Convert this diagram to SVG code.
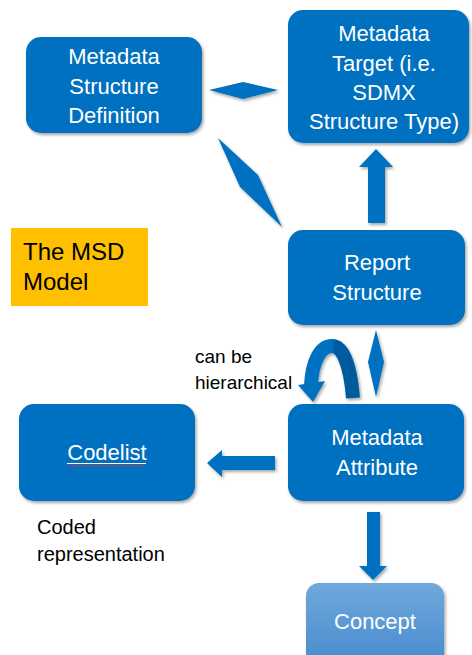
<svg xmlns="http://www.w3.org/2000/svg" width="472" height="655" viewBox="0 0 472 655">
<style>
.box{fill:#0070C0;}
.bt{fill:#FFFFFF;font-family:"Liberation Sans",Arial,sans-serif;font-size:22px;text-anchor:middle;}
.lbl{fill:#000000;font-family:"Liberation Sans",Arial,sans-serif;}
.conn{fill:#0070C0;}
</style>
<defs>
<filter id="sh" x="-10%" y="-10%" width="125%" height="130%">
<feDropShadow dx="1.5" dy="2" stdDeviation="1.8" flood-color="#000" flood-opacity="0.35"/>
</filter>
<linearGradient id="cg" x1="0" y1="0" x2="0" y2="1">
<stop offset="0" stop-color="#70A8DD"/>
<stop offset="1" stop-color="#4488CC"/>
</linearGradient>
<linearGradient id="arcg" x1="0" y1="0" x2="1" y2="0">
<stop offset="0.5" stop-color="#0070C0"/>
<stop offset="0.58" stop-color="#005A9E"/>
<stop offset="1" stop-color="#005A9E"/>
</linearGradient>
</defs>
<rect width="472" height="655" fill="#FFFFFF"/>

<g id="msd">
<rect class="box" x="26" y="37" width="176" height="96" rx="15" filter="url(#sh)"/>
<text class="bt" x="114" y="64">Metadata</text>
<text class="bt" x="114" y="94">Structure</text>
<text class="bt" x="114" y="123">Definition</text>
</g>

<g id="target">
<rect class="box" x="288" y="10" width="181" height="133" rx="15" filter="url(#sh)"/>
<text class="bt" x="384" y="41">Metadata</text>
<text class="bt" x="384" y="71">Target (i.e.</text>
<text class="bt" x="384" y="100">SDMX</text>
<text class="bt" x="384" y="129">Structure Type)</text>
</g>

<g id="msdmodel">
<rect x="11" y="228" width="137" height="78" fill="#FFC000"/>
<text class="lbl" x="23" y="260" font-size="24">The MSD</text>
<text class="lbl" x="23" y="290" font-size="24">Model</text>
</g>

<g id="report">
<rect class="box" x="288" y="230" width="177" height="95" rx="15" filter="url(#sh)"/>
<text class="bt" x="377" y="270">Report</text>
<text class="bt" x="377" y="300">Structure</text>
</g>

<g id="codelist">
<rect class="box" x="19" y="404" width="176" height="97" rx="15" filter="url(#sh)"/>
<text class="bt" x="107" y="460">Codelist</text>
<line x1="67" y1="463.5" x2="146" y2="463.5" stroke="#FFFFFF" stroke-width="1"/>
<path d="M67 466.5 l2 -1.5 l2 1.5 l2 -1.5 l2 1.5 l2 -1.5 l2 1.5 l2 -1.5 l2 1.5 l2 -1.5 l2 1.5 l2 -1.5 l2 1.5 l2 -1.5 l2 1.5 l2 -1.5 l2 1.5 l2 -1.5 l2 1.5 l2 -1.5 l2 1.5 l2 -1.5 l2 1.5 l2 -1.5 l2 1.5 l2 -1.5 l2 1.5 l2 -1.5 l2 1.5 l2 -1.5 l2 1.5 l2 -1.5 l2 1.5 l2 -1.5 l2 1.5 l2 -1.5 l2 1.5 l2 -1.5 l2 1.5 l2 -1.5" fill="none" stroke="#E03030" stroke-width="0.9"/>
</g>

<g id="attribute">
<rect class="box" x="288" y="404" width="176" height="97" rx="15" filter="url(#sh)"/>
<text class="bt" x="377" y="445">Metadata</text>
<text class="bt" x="377" y="475">Attribute</text>
</g>

<g id="concept">
<rect x="306" y="583" width="138" height="90" rx="13" fill="url(#cg)" filter="url(#sh)"/>
<text class="bt" x="375" y="629">Concept</text>
</g>

<g id="labels">
<text class="lbl" x="195" y="363" font-size="19">can be</text>
<text class="lbl" x="195" y="389" font-size="19">hierarchical</text>
<text class="lbl" x="37" y="534" font-size="20">Coded</text>
<text class="lbl" x="37" y="561" font-size="20">representation</text>
</g>

<g id="connectors" filter="url(#sh)">
<polygon class="conn" points="209,90 243,82 278,90 243,99"/>
<polygon class="conn" points="218,138 258,175 282,227 240,187"/>
<polygon class="conn" points="368,223 368,167 359,167 376,149 393,167 385,167 385,223"/>
<polygon class="conn" points="376,330 384,362 376,397 368,362"/>
<path d="M353 398 C350 362 342 346 332 346 C320 346 312 362 311 386" fill="none" stroke="url(#arcg)" stroke-width="14"/>
<polygon class="conn" points="298,385 325,381 313,402"/>
<polygon class="conn" points="275,456 222,456 222,450 207,463 222,477 222,470 275,470"/>
<polygon class="conn" points="367,512 380,512 380,566 387,566 373,580 359,566 367,566"/>
</g>
</svg>
